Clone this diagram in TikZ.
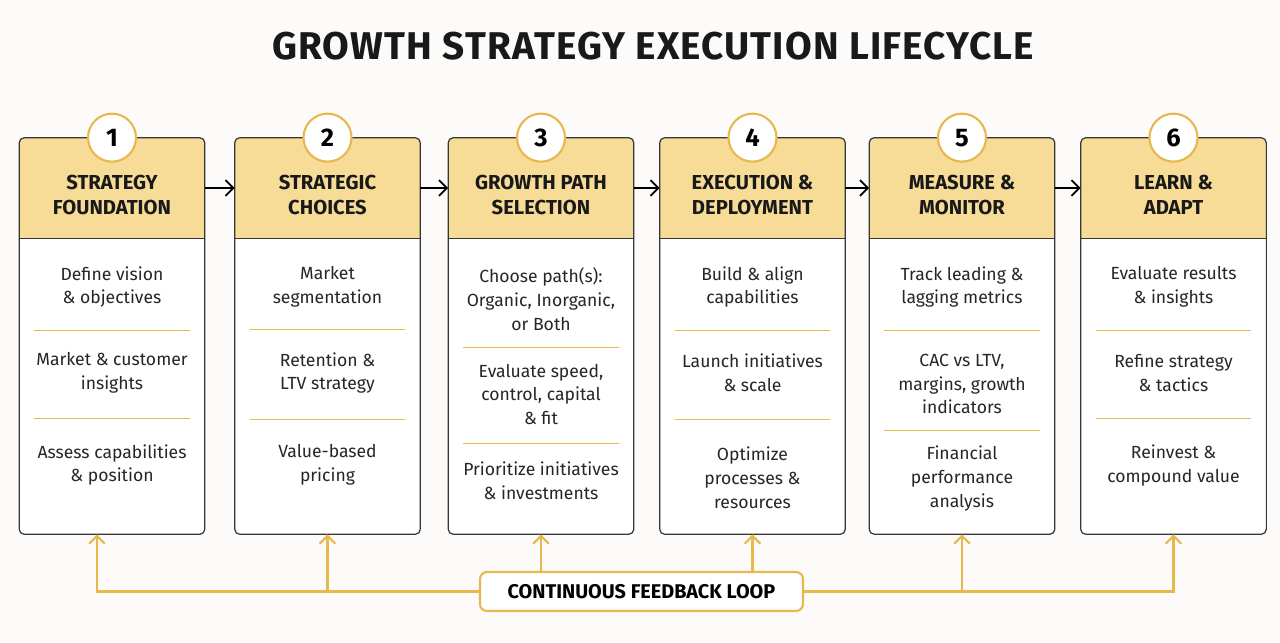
\documentclass[tikz,border=0pt]{standalone}
\usepackage{fontspec}
\setmainfont{Fira Sans}
\newfontfamily\titlefont[LetterSpace=3]{Fira Sans}
\usepackage{tikz}
\usetikzlibrary{arrows.meta,calc,backgrounds}
\definecolor{headfill}{RGB}{247,220,152}
\definecolor{gold}{RGB}{232,183,78}
\definecolor{framecol}{RGB}{55,55,55}
\definecolor{pagecol}{RGB}{252,251,249}
\tikzstyle{head} = [rectangle, fill=headfill, rounded corners=3pt,
    minimum width=3.7cm, minimum height=2cm, align=center, text height=30pt,
    font=\bfseries\fontsize{11.5}{14.2}\selectfont, text=black!90]
\tikzstyle{body} = [rectangle, fill=white, minimum width=3.7cm, minimum height=5.92cm]
\tikzstyle{entry} = [align=center, font=\fontsize{10}{13.6}\selectfont, text=black!85]
\tikzstyle{num} = [circle, draw=gold, line width=1.2pt, fill=white,
    minimum size=0.96cm, inner sep=0pt, font=\bfseries\fontsize{14.5}{14.5}\selectfont]
\tikzstyle{frame} = [draw=framecol, line width=0.7pt]
\tikzstyle{divider} = [draw=gold, line width=0.6pt]
\tikzstyle{line} = [draw, line width=1pt, -{Straight Barb[length=4.5pt,width=9pt]}]
\tikzstyle{fb} = [draw=gold, line width=1.2pt, -{Straight Barb[length=4.5pt,width=9pt]}]
\tikzstyle{loopbox} = [rectangle, draw=gold, line width=1.2pt, fill=white,
    rounded corners=4pt, minimum width=6.46cm, minimum height=0.78cm,
    font=\bfseries\fontsize{11.3}{12}\selectfont]
% gold rule half way between two entries
\newcommand{\divline}[3]{%
  \path ($(#2.south)!.5!(#3.north)$) coordinate (m);
  \draw[divider] ($(m -| #1.west)+(.3,0)$) -- ($(m -| #1.east)+(-.3,0)$);}

\begin{document}
\begin{tikzpicture}
  \useasboundingbox (0,0) rectangle (25.6,-12.84);

  \node[font=\titlefont\bfseries\fontsize{22}{24}\selectfont, text=black!90] (title) at (13.06,-0.92)
    {GROWTH STRATEGY EXECUTION LIFECYCLE};

  % Place headers
  \node [head] (h1) at (2.24,-3.76) {STRATEGY\\FOUNDATION};
  \node [head, right of=h1, node distance=4.31cm] (h2) {STRATEGIC\\CHOICES};
  \node [head, right of=h2, node distance=4.27cm] (h3) {GROWTH PATH\\SELECTION};
  \node [head, right of=h3, node distance=4.23cm] (h4) {EXECUTION \&\\DEPLOYMENT};
  \node [head, right of=h4, node distance=4.19cm] (h5) {MEASURE \&\\MONITOR};
  \node [head, right of=h5, node distance=4.23cm] (h6) {LEARN \&\\ADAPT};

  % Place bodies
  \foreach \n in {1,...,6}
    \node [body, below of=h\n, node distance=3.96cm] (b\n) {};

  % Step 1
  \node [entry, below of=h1, node distance=1.98cm] (s1a) {Define vision\\\& objectives};
  \node [entry, below of=s1a, node distance=1.72cm] (s1b) {Market \& customer\\insights};
  \node [entry, below of=s1b, node distance=1.84cm] (s1c) {Assess capabilities\\\& position};
  % Step 2
  \node [entry, below of=h2, node distance=1.98cm] (s2a) {Market\\segmentation};
  \node [entry, below of=s2a, node distance=1.72cm] (s2b) {Retention \&\\LTV strategy};
  \node [entry, below of=s2b, node distance=1.84cm] (s2c) {Value-based\\pricing};
  % Step 3
  \node [entry, below of=h3, node distance=2.23cm] (s3a) {Choose path(s):\\Organic, Inorganic,\\or Both};
  \node [entry, below of=s3a, node distance=1.90cm] (s3b) {Evaluate speed,\\control, capital\\\& fit};
  \node [entry, below of=s3b, node distance=1.73cm] (s3c) {Prioritize initiatives\\\& investments};
  % Step 4
  \node [entry, below of=h4, node distance=1.98cm] (s4a) {Build \& align\\capabilities};
  \node [entry, below of=s4a, node distance=1.72cm] (s4b) {Launch initiatives\\\& scale};
  \node [entry, below of=s4b, node distance=2.09cm] (s4c) {Optimize\\processes \&\\resources};
  % Step 5
  \node [entry, below of=h5, node distance=1.98cm] (s5a) {Track leading \&\\lagging metrics};
  \node [entry, below of=s5a, node distance=1.94cm] (s5b) {CAC vs LTV,\\margins, growth\\indicators};
  \node [entry, below of=s5b, node distance=1.89cm] (s5c) {Financial\\performance\\analysis};
  % Step 6
  \node [entry, below of=h6, node distance=1.98cm] (s6a) {Evaluate results\\\& insights};
  \node [entry, below of=s6a, node distance=1.72cm] (s6b) {Refine strategy\\\& tactics};
  \node [entry, below of=s6b, node distance=1.85cm] (s6c) {Reinvest \&\\compound value};

  % Page colour and square lower header corners
  \begin{scope}[on background layer]
    \fill[pagecol] (0,0) rectangle (25.6,-12.84);
    \foreach \n in {1,...,6}
      \fill[headfill] (h\n.west) rectangle (h\n.south east);
  \end{scope}

  % Card frames and rules
  \foreach \n in {1,...,6}{
    \draw[frame, rounded corners=3pt] (h\n.north west) rectangle (b\n.south east);
    \draw[frame] (h\n.south west) -- (h\n.south east);
    \divline{b\n}{s\n a}{s\n b}
    \divline{b\n}{s\n b}{s\n c}
  }

  % Step numbers
  \foreach \n in {1,...,6}
    \node [num] (c\n) at (h\n.north) {\n};

  % Draw edges
  \path [line] (h1) -- (h2);
  \path [line] (h2) -- (h3);
  \path [line] (h3) -- (h4);
  \path [line] (h4) -- (h5);
  \path [line] (h5) -- (h6);

  % Feedback loop
  \node [loopbox] (loop) at (12.83,-11.83) {CONTINUOUS FEEDBACK LOOP};
  \path [fb] (loop.west) -| ([xshift=-3mm]b1.south);
  \path [fb] (loop.west) -| (b2);
  \path [fb] (loop.north -| b3.south) -- (b3.south);
  \path [fb] (loop.north -| b4.south) -- (b4.south);
  \path [fb] (loop.east) -| (b5);
  \path [fb] (loop.east) -| (b6);
\end{tikzpicture}
\end{document}
